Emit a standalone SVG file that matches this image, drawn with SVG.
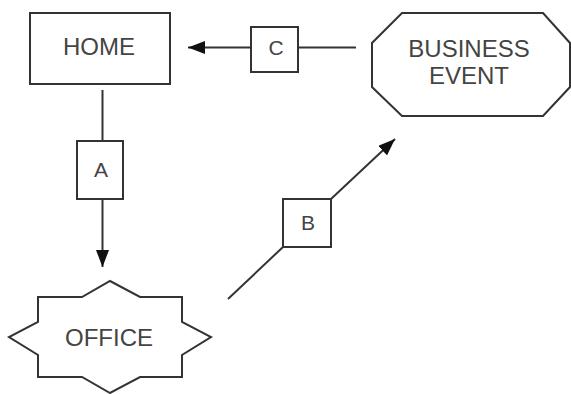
<svg xmlns="http://www.w3.org/2000/svg" width="571" height="394" viewBox="0 0 571 394">
<style>
.shape{fill:#fff;stroke:#333;stroke-width:2}
.lbl{fill:#fff;stroke:#333;stroke-width:2}
.line{fill:none;stroke:#333;stroke-width:2}
text{font-family:"Liberation Sans",Arial,sans-serif;fill:#444;text-anchor:middle}
.big{font-size:24px}
.small{font-size:21px}
</style>
<defs>
<marker id="arr" viewBox="0 0 10 10" refX="10" refY="5" markerWidth="8.5" markerHeight="8.5" markerUnits="userSpaceOnUse" orient="auto">
<path d="M0,0 L10,5 L0,10 z" fill="#111"/>
</marker>
<marker id="arrL" viewBox="0 0 10 10" refX="10" refY="5" markerWidth="17" markerHeight="13" markerUnits="userSpaceOnUse" orient="auto" preserveAspectRatio="none">
<path d="M0,0 L10,5 L0,10 z" fill="#111"/>
</marker>
</defs>
<g id="connectors">
<g id="conn-A">
<line class="line" x1="102.5" y1="90" x2="102.5" y2="141"/>
<line class="line" x1="102.5" y1="199" x2="102.5" y2="267" marker-end="url(#arrL)"/>
<rect class="lbl" x="77" y="141" width="46" height="58"/>
<text class="small" x="101" y="177">A</text>
</g>
<g id="conn-B">
<line class="line" x1="228" y1="299" x2="283" y2="247"/>
<line class="line" x1="331" y1="199" x2="395" y2="139" marker-end="url(#arrL)"/>
<rect class="lbl" x="283" y="199" width="48" height="48"/>
<text class="small" x="308" y="230">B</text>
</g>
<g id="conn-C">
<line class="line" x1="356" y1="47.5" x2="299" y2="47.5"/>
<line class="line" x1="251" y1="47.5" x2="188" y2="47.5" marker-end="url(#arrL)"/>
<rect class="lbl" x="251" y="27" width="47" height="45"/>
<text class="small" x="276" y="55">C</text>
</g>
</g>
<g id="home">
<rect class="shape" x="30" y="13" width="140" height="71"/>
<text class="big" x="99" y="55">HOME</text>
</g>
<g id="business-event">
<polygon class="shape" points="402,13 543,13 570,43 570,87 543,116 402,116 372,87 372,43"/>
<text class="big" x="469" y="57">BUSINESS</text>
<text class="big" x="469" y="84">EVENT</text>
</g>
<g id="office">
<polygon class="shape" points="110,281 140,297 182,297 182,322 211,337 182,355 182,377 140,377 110,393 82,377 38,377 38,355 9,337 38,322 38,297 82,297"/>
<text class="big" x="109" y="346">OFFICE</text>
</g>
</svg>
